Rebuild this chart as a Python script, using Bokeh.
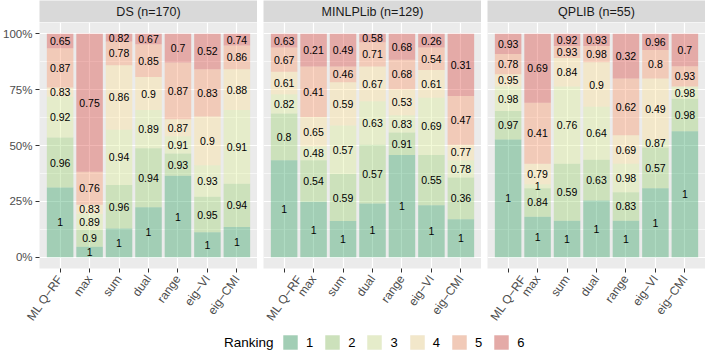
import math
import numpy as np
from bokeh.plotting import figure
from bokeh.models import (ColumnDataSource, FactorRange, Range1d, FixedTicker,
                          NumeralTickFormatter, Legend, LegendItem, Label)
from bokeh.layouts import row, column
from bokeh.embed import file_html
from bokeh.resources import INLINE
from bokeh.core.properties import value

# ---------------- data ----------------
methods = ["ML Q\u2212RF", "max", "sum", "dual", "range", "eig\u2212VI", "eig\u2212CMI"]
datasets = ["DS", "MINLPLib", "QPLIB"]
ranks = ["1", "2", "3", "4", "5", "6"]

# counts of instances per ranking 1..6 (per method)
ds_counts = [
    [53, 38, 31, 7, 30, 11],
    [8, 13, 12, 7, 25, 105],
    [22, 33, 42, 49, 18, 6],
    [38, 45, 29, 25, 25, 8],
    [62, 17, 13, 13, 43, 22],
    [19, 27, 24, 37, 36, 27],
    [23, 33, 56, 31, 18, 9],
]
minlp_counts = [
    [56, 27, 11, 13, 14, 8],
    [32, 24, 8, 17, 29, 19],
    [21, 27, 28, 25, 9, 19],
    [31, 34, 25, 20, 14, 5],
    [59, 13, 10, 15, 17, 15],
    [30, 29, 33, 16, 13, 8],
    [22, 24, 10, 9, 28, 36],
]
qplib_counts = [
    [29, 7, 6, 3, 5, 5],
    [10, 7, 1, 5, 15, 17],
    [9, 14, 19, 7, 3, 3],
    [14, 10, 13, 11, 4, 3],
    [9, 7, 7, 7, 14, 11],
    [17, 10, 2, 15, 7, 4],
    [31, 8, 3, 0, 5, 8],
]

# values printed in each segment (rank 1..6)
ds_labels = [
    [1, 0.96, 0.92, 0.83, 0.87, 0.65],
    [1, 0.9, 0.89, 0.83, 0.76, 0.75],
    [1, 0.96, 0.94, 0.86, 0.78, 0.82],
    [1, 0.94, 0.89, 0.9, 0.85, 0.67],
    [1, 0.93, 0.91, 0.87, 0.87, 0.7],
    [1, 0.95, 0.93, 0.9, 0.83, 0.52],
    [1, 0.94, 0.91, 0.88, 0.86, 0.74],
]
minlp_labels = [
    [1, 0.8, 0.82, 0.61, 0.67, 0.63],
    [1, 0.54, 0.48, 0.65, 0.41, 0.21],
    [1, 0.59, 0.57, 0.59, 0.46, 0.49],
    [1, 0.57, 0.63, 0.67, 0.71, 0.58],
    [1, 0.91, 0.83, 0.53, 0.68, 0.68],
    [1, 0.55, 0.69, 0.61, 0.54, 0.26],
    [1, 0.36, 0.78, 0.77, 0.47, 0.31],
]
qplib_labels = [
    [1, 0.97, 0.98, 0.95, 0.78, 0.93],
    [1, 0.84, 1, 0.79, 0.41, 0.69],
    [1, 0.59, 0.76, 0.84, 0.93, 0.92],
    [1, 0.63, 0.64, 0.9, 0.98, 0.93],
    [1, 0.83, 0.98, 0.69, 0.62, 0.32],
    [1, 0.57, 0.87, 0.49, 0.8, 0.96],
    [1, 0.98, 0.98, None, 0.93, 0.7],
]

counts_all = [ds_counts, minlp_counts, qplib_counts]
labels_all = [ds_labels, minlp_labels, qplib_labels]

y_ticks = [0, 0.25, 0.5, 0.75, 1.0]
y_minor = [0.125, 0.375, 0.625, 0.875]

# ---------------- style ----------------
colors = ["#1A9850", "#91CF60", "#D9EF8B", "#FEE08B", "#FC8D59", "#D73027"]
ALPHA = 0.35
FONT = "Liberation Sans"
PANEL_BG = "#EBEBEB"
STRIP_BG = "#D9D9D9"
P_W = 218
P_H = 246
STRIP_H = 22
LEFT = 39
GAP = 6
AXIS_H = 55
LEG_H = 23
LABEL_ANGLE = 0.95

cols = []
for i, (name, counts, labs) in enumerate(zip(datasets, counts_all, labels_all)):
    cnt = np.array(counts, dtype=float)
    n = int(cnt[0].sum())
    frac = cnt / cnt.sum(axis=1, keepdims=True)
    data = {"method": methods}
    for k, r in enumerate(ranks):
        data["r" + r] = frac[:, k]
    src = ColumnDataSource(data)

    left = LEFT if i == 0 else 0
    p = figure(x_range=FactorRange(*methods, range_padding=0.2, range_padding_units="absolute"),
               y_range=Range1d(-0.05, 1.05),
               frame_width=P_W, frame_height=P_H,
               output_backend="svg", toolbar_location=None,
               y_axis_location="left" if i == 0 else None,
               min_border_left=left, min_border_right=0,
               min_border_top=0, min_border_bottom=AXIS_H)
    p.background_fill_color = PANEL_BG
    p.border_fill_color = "white"
    p.outline_line_color = None

    p.vbar_stack(["r" + r for r in ranks], x="method", width=0.9, fill_color=colors,
                 fill_alpha=ALPHA, line_color=None, source=src)

    cum = np.cumsum(frac, axis=1)
    xs, ys, ts = [], [], []
    for j, m in enumerate(methods):
        for k in range(6):
            if cnt[j, k] > 0 and labs[j][k] is not None:
                xs.append(m)
                ys.append(cum[j, k] - frac[j, k] / 2)
                ts.append(f"{labs[j][k]:g}")
    p.text(x=xs, y=ys, text=ts, text_align="center", text_baseline="middle",
           text_font=value(FONT), text_font_size="10.5px", text_color="black")

    # grids
    p.xgrid.grid_line_color = "white"
    p.xgrid.grid_line_width = 1.2
    p.ygrid.ticker = FixedTicker(ticks=y_ticks, minor_ticks=y_minor)
    p.ygrid.grid_line_color = "white"
    p.ygrid.grid_line_width = 1.2
    p.ygrid.minor_grid_line_color = "white"
    p.ygrid.minor_grid_line_width = 0.6

    # x axis
    xa = p.xaxis[0]
    xa.major_label_orientation = LABEL_ANGLE
    xa.major_label_text_font = FONT
    xa.major_label_text_font_size = "12px"
    xa.major_label_text_color = "#4D4D4D"
    xa.axis_line_color = None
    xa.major_tick_line_color = "#333333"
    xa.major_tick_out = 4
    xa.major_tick_in = 0
    xa.minor_tick_line_color = None
    xa.major_label_standoff = 4

    if i == 0:
        ya = p.yaxis[0]
        ya.ticker = FixedTicker(ticks=y_ticks, minor_ticks=y_minor)
        ya.formatter = NumeralTickFormatter(format="0%")
        ya.major_label_text_font = FONT
        ya.major_label_text_font_size = "11.5px"
        ya.major_label_text_color = "#4D4D4D"
        ya.axis_line_color = None
        ya.major_tick_line_color = "#333333"
        ya.major_tick_out = 4
        ya.major_tick_in = 0
        ya.minor_tick_line_color = None
        ya.major_label_standoff = 3

    # strip
    s = figure(x_range=Range1d(0, 1), y_range=Range1d(0, 1),
               frame_width=P_W, frame_height=STRIP_H,
               output_backend="svg", toolbar_location=None,
               x_axis_location=None, y_axis_location=None,
               min_border_left=left, min_border_right=0,
               min_border_top=0, min_border_bottom=0)
    s.background_fill_color = STRIP_BG
    s.border_fill_color = "white"
    s.outline_line_color = None
    s.grid.visible = False
    s.add_layout(Label(x=0.5, y=0.5, text=f"{name} (n={n})", text_align="center",
                       text_baseline="middle", text_font=FONT, text_font_size="12.5px",
                       text_color="#1A1A1A"))
    cols.append(column(s, p, spacing=0))

# ---------------- legend ----------------
lg = figure(x_range=Range1d(0, 1), y_range=Range1d(0, 1),
            frame_width=3 * P_W + 2 * GAP, frame_height=LEG_H,
            output_backend="svg", toolbar_location=None,
            x_axis_location=None, y_axis_location=None,
            min_border_left=LEFT, min_border_right=0,
            min_border_top=0, min_border_bottom=0)
lg.outline_line_color = None
lg.grid.visible = False
lg.background_fill_color = "white"
lg.border_fill_color = "white"

items = []
for r, c in zip(ranks, colors):
    # zero-height placeholder glyphs: only their legend swatches are seen
    bg = lg.vbar(x=[0], top=[0], bottom=[0], width=0, fill_color=PANEL_BG, line_color=None)
    fg = lg.vbar(x=[0], top=[0], bottom=[0], width=0, fill_color=c, fill_alpha=ALPHA,
                 line_color=None)
    items.append(LegendItem(label=r, renderers=[bg, fg]))

leg = Legend(items=items, orientation="horizontal", location=(242, 2),
             glyph_width=18, glyph_height=18, label_standoff=7, spacing=10,
             padding=0, margin=0, label_width=7, label_height=18,
             label_text_font=FONT, label_text_font_size="13px",
             label_text_color="black", label_text_baseline="middle",
             border_line_color=None, background_fill_alpha=0)
lg.add_layout(leg)
lg.add_layout(Label(x=234, y=11, x_units="screen", y_units="screen", text="Ranking",
                    text_align="right", text_baseline="middle", text_font=FONT,
                    text_font_size="13.5px", text_color="black"))

layout = column(row(*cols, spacing=GAP), lg, spacing=0)

open("out.html", "w").write(file_html(layout, INLINE))
